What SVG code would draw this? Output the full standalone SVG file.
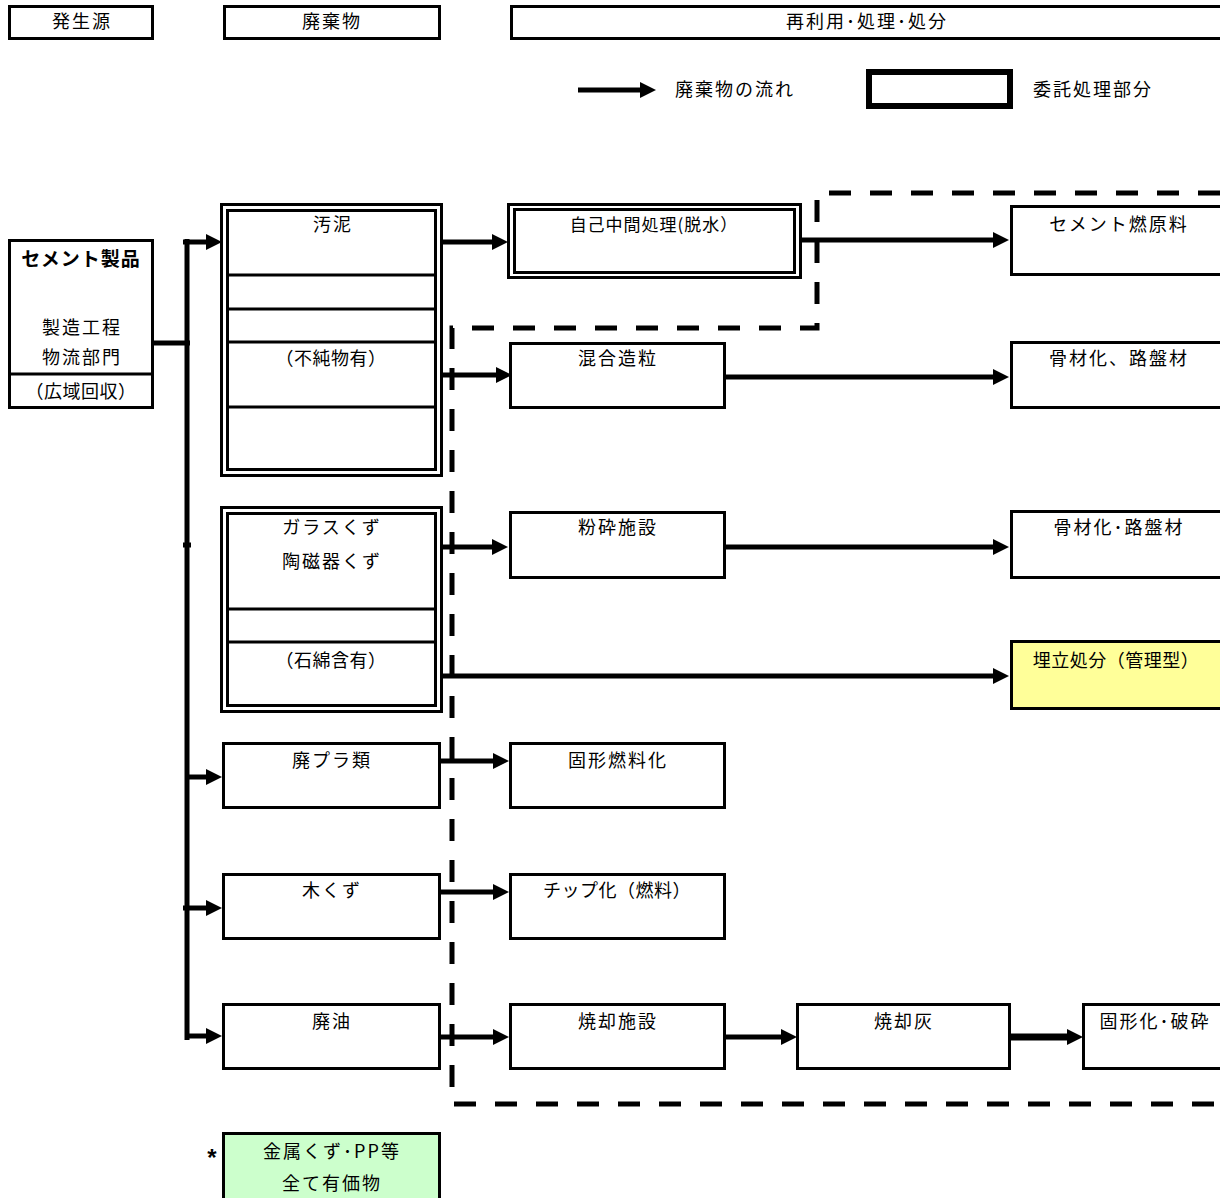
<svg xmlns="http://www.w3.org/2000/svg" width="1220" height="1198" viewBox="0 0 1220 1198">
<style>
text{font-family:"Noto Sans CJK JP","Liberation Sans",sans-serif;font-size:18px;letter-spacing:2px;fill:#000;text-anchor:middle}
.p{letter-spacing:0.5px}
.b{fill:#fff;stroke:#000;stroke-width:3}
.ln{fill:none;stroke:#000;stroke-width:3}
.fl{stroke:#000;stroke-width:5;fill:none}
.dash{fill:none;stroke:#000;stroke-width:5;stroke-dasharray:22 19}
</style>
<defs>
<path id="ah" d="M-16,-8 L0,0 L-16,8 z" fill="#000"/>
</defs>
<rect width="1220" height="1198" fill="#fff"/>
<g id="header">
<rect class="b" x="9.5" y="6.5" width="143" height="32"/>
<text x="82" y="28">発生源</text>
<rect class="b" x="224.5" y="6.5" width="215" height="32"/>
<text x="332" y="28">廃棄物</text>
<rect class="b" x="511.5" y="6.5" width="720" height="32"/>
<text x="867" y="28">再利用･処理･処分</text>
</g>
<g id="legend">
<line class="fl" x1="578" y1="90" x2="642" y2="90"/>
<use href="#ah" x="656" y="90"/>
<text x="735" y="96">廃棄物の流れ</text>
<rect x="869" y="72" width="141" height="34" fill="#fff" stroke="#000" stroke-width="6"/>
<text x="1093" y="96">委託処理部分</text>
</g>
<g id="dashed">
<polyline class="dash" points="1220,193 817,193 817,328 452,328 452,1104 1220,1104"/>
</g>
<g id="connectors">
<line class="fl" x1="153" y1="343" x2="190" y2="343"/>
<line class="fl" x1="187" y1="239" x2="187" y2="1040"/>
<line class="fl" x1="183" y1="242" x2="208" y2="242"/>
<use href="#ah" x="222" y="242"/>
<line class="fl" x1="183" y1="545" x2="191" y2="545"/>
<line class="fl" x1="185" y1="777" x2="208" y2="777"/>
<use href="#ah" x="222" y="777"/>
<line class="fl" x1="183" y1="908" x2="208" y2="908"/>
<use href="#ah" x="222" y="908"/>
<line class="fl" x1="185" y1="1036" x2="208" y2="1036"/>
<use href="#ah" x="222" y="1036"/>
<line class="fl" x1="440" y1="242" x2="494" y2="242"/>
<use href="#ah" x="508" y="242"/>
<line class="fl" x1="801" y1="240" x2="994" y2="240"/>
<use href="#ah" x="1009" y="240"/>
<line class="fl" x1="440" y1="375" x2="498" y2="375"/>
<use href="#ah" x="512" y="375"/>
<line class="fl" x1="725" y1="377" x2="994" y2="377"/>
<use href="#ah" x="1009" y="377"/>
<line class="fl" x1="440" y1="547" x2="494" y2="547"/>
<use href="#ah" x="508" y="547"/>
<line class="fl" x1="725" y1="547" x2="994" y2="547"/>
<use href="#ah" x="1009" y="547"/>
<line class="fl" x1="440" y1="676" x2="994" y2="676"/>
<use href="#ah" x="1009" y="676"/>
<line class="fl" x1="440" y1="761" x2="494" y2="761"/>
<use href="#ah" x="509" y="761"/>
<line class="fl" x1="440" y1="892" x2="494" y2="892"/>
<use href="#ah" x="509" y="892"/>
<line class="fl" x1="440" y1="1037" x2="494" y2="1037"/>
<use href="#ah" x="509" y="1037"/>
<line class="fl" x1="725" y1="1037" x2="782" y2="1037"/>
<use href="#ah" x="797" y="1037"/>
<line x1="1010" y1="1037" x2="1068" y2="1037" stroke="#000" stroke-width="7"/>
<use href="#ah" x="1083" y="1037"/>
</g>
<g id="source">
<rect class="b" x="9.5" y="240.5" width="143" height="167"/>
<line class="ln" x1="9" y1="374" x2="153" y2="374"/>
<text x="81" y="266" style="font-weight:bold;font-size:19px;letter-spacing:1px">セメント製品</text>
<text x="82" y="334">製造工程</text>
<text x="82" y="364">物流部門</text>
<text x="81" y="398" class="p">（広域回収）</text>
</g>
<g id="sludge">
<rect class="b" x="221.5" y="204.5" width="220" height="271"/>
<rect class="b" x="227.5" y="210.5" width="208" height="259"/>
<line class="ln" x1="227" y1="275" x2="436" y2="275"/>
<line class="ln" x1="227" y1="309" x2="436" y2="309"/>
<line class="ln" x1="227" y1="342" x2="436" y2="342"/>
<line class="ln" x1="227" y1="407" x2="436" y2="407"/>
<text x="333" y="231">汚泥</text>
<text x="331" y="365" class="p">（不純物有）</text>
</g>
<g id="glass">
<rect class="b" x="221.5" y="507.5" width="220" height="204"/>
<rect class="b" x="227.5" y="513.5" width="208" height="192"/>
<line class="ln" x1="227" y1="609" x2="436" y2="609"/>
<line class="ln" x1="227" y1="642" x2="436" y2="642"/>
<text x="332" y="534">ガラスくず</text>
<text x="332" y="568">陶磁器くず</text>
<text x="331" y="667" class="p">（石綿含有）</text>
</g>
<g id="plastic">
<rect class="b" x="223.5" y="743.5" width="216" height="64"/>
<text x="332" y="767">廃プラ類</text>
</g>
<g id="wood">
<rect class="b" x="223.5" y="874.5" width="216" height="64"/>
<text x="332" y="897">木くず</text>
</g>
<g id="oil">
<rect class="b" x="223.5" y="1004.5" width="216" height="64"/>
<text x="332" y="1028">廃油</text>
</g>
<g id="dewater">
<rect class="b" x="508.5" y="204.5" width="292" height="73"/>
<rect class="b" x="514.5" y="209.5" width="280" height="63"/>
<text x="654" y="231" style="font-size:17px;letter-spacing:1px">自己中間処理(脱水）</text>
</g>
<g id="granulate">
<rect class="b" x="510.5" y="343.5" width="214" height="64"/>
<text x="618" y="365">混合造粒</text>
</g>
<g id="crush">
<rect class="b" x="510.5" y="512.5" width="214" height="65"/>
<text x="618" y="534">粉砕施設</text>
</g>
<g id="rdf">
<rect class="b" x="510.5" y="743.5" width="214" height="64"/>
<text x="618" y="767">固形燃料化</text>
</g>
<g id="chip">
<rect class="b" x="510.5" y="874.5" width="214" height="64"/>
<text x="617" y="897" class="p">チップ化（燃料）</text>
</g>
<g id="incin">
<rect class="b" x="510.5" y="1004.5" width="214" height="64"/>
<text x="618" y="1028">焼却施設</text>
</g>
<g id="ash">
<rect class="b" x="797.5" y="1004.5" width="212" height="64"/>
<text x="904" y="1028">焼却灰</text>
</g>
<g id="solidify">
<rect class="b" x="1083.5" y="1004.5" width="150" height="64"/>
<text x="1155" y="1028">固形化･破砕</text>
</g>
<g id="cement">
<rect class="b" x="1011.5" y="206.5" width="220" height="68"/>
<text x="1119" y="231">セメント燃原料</text>
</g>
<g id="aggregate1">
<rect class="b" x="1011.5" y="342.5" width="220" height="65"/>
<text x="1119" y="365">骨材化、路盤材</text>
</g>
<g id="aggregate2">
<rect class="b" x="1011.5" y="511.5" width="220" height="66"/>
<text x="1119" y="534">骨材化･路盤材</text>
</g>
<g id="landfill">
<rect x="1011.5" y="641.5" width="220" height="67" fill="#FFFF99" stroke="#000" stroke-width="3"/>
<text x="1116" y="667" class="p">埋立処分（管理型）</text>
</g>
<g id="valuable">
<text x="212" y="1166" style="font-family:'Liberation Sans',sans-serif;font-size:24px;font-weight:bold;letter-spacing:0">*</text>
<rect x="223.5" y="1133.5" width="216" height="70" fill="#CCFFCC" stroke="#000" stroke-width="3"/>
<text x="332" y="1158">金属くず･PP等</text>
<text x="332" y="1190">全て有価物</text>
</g>
</svg>
